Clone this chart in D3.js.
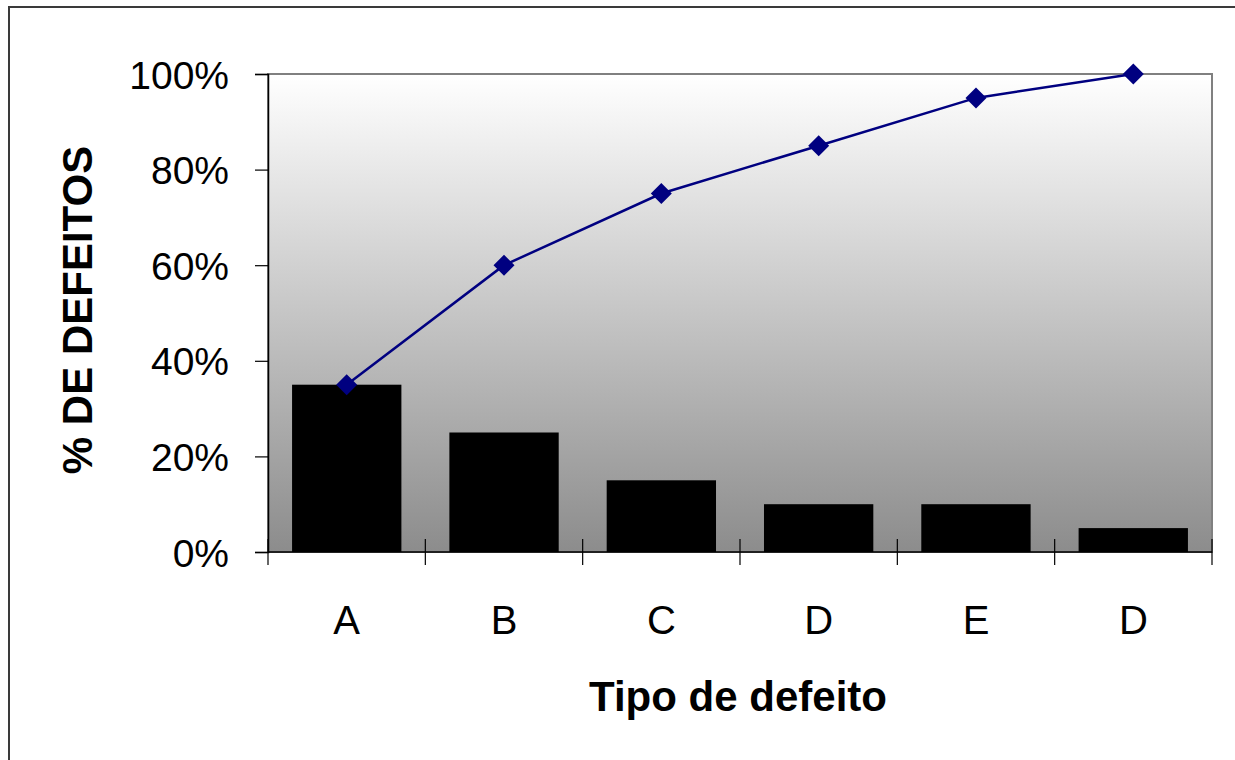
<!DOCTYPE html>
<head>
  <meta charset="utf-8">
  <script src="https://d3js.org/d3.v7.min.js"></script>
  <style>
    body { margin:0; background:#fff; }
    text { font-family: Arial, "Liberation Sans", sans-serif; fill:#000; }
  </style>
</head>
<body>
<script>
  // categories and values (% of defects)
  var categories = ['A', 'B', 'C', 'D', 'E', 'D'];
  var defectPct = [35, 25, 15, 10, 10, 5];
  var cumulativePct = [35, 60, 75, 85, 95, 100];
  var yTicks = [0, 20, 40, 60, 80, 100];

  var width = 1235, height = 760;
  var plot = { left: 268, right: 1212, top: 74, bottom: 552 };

  var svg = d3.select('body').append('svg')
    .attr('width', width)
    .attr('height', height);

  // outer frame
  svg.append('rect')
    .attr('x', 9).attr('y', 7)
    .attr('width', 1240).attr('height', 780)
    .attr('fill', 'none')
    .attr('stroke', '#3a3a3a')
    .attr('stroke-width', 2);

  var grad = svg.append('defs').append('linearGradient')
    .attr('id', 'bg').attr('x1', 0).attr('y1', 0).attr('x2', 0).attr('y2', 1);
  grad.append('stop').attr('offset', '0%').attr('stop-color', '#ffffff');
  grad.append('stop').attr('offset', '100%').attr('stop-color', '#8c8c8c');

  // x positions: index based because 'D' appears twice
  var x = d3.scaleBand()
    .domain(d3.range(categories.length))
    .range([plot.left, plot.right])
    .paddingInner(0.305)
    .paddingOuter(0.153);

  var xBand = d3.scaleBand()
    .domain(d3.range(categories.length))
    .range([plot.left, plot.right]);

  var y = d3.scaleLinear()
    .domain([0, 100])
    .range([plot.bottom, plot.top]);

  // plot background
  svg.append('rect')
    .attr('x', plot.left).attr('y', plot.top)
    .attr('width', plot.right - plot.left)
    .attr('height', plot.bottom - plot.top)
    .attr('fill', 'url(#bg)')
    .attr('stroke', '#808080')
    .attr('stroke-width', 2);

  // bars
  svg.append('g').selectAll('rect')
    .data(defectPct)
    .enter().append('rect')
    .attr('x', function(d, i){ return x(i); })
    .attr('y', function(d){ return y(d); })
    .attr('width', x.bandwidth())
    .attr('height', function(d){ return y(0) - y(d); })
    .attr('fill', '#000');

  // y axis
  var yAxis = d3.axisLeft(y)
    .tickValues(yTicks)
    .tickFormat(function(d){ return d + '%'; })
    .tickSize(13)
    .tickPadding(26);

  var yg = svg.append('g')
    .attr('transform', 'translate(' + plot.left + ',0)')
    .call(yAxis);
  yg.select('.domain').attr('stroke', '#000').attr('stroke-width', 1.5);
  yg.selectAll('.tick line').attr('stroke', '#000').attr('stroke-width', 1.2);
  yg.selectAll('.tick text')
    .attr('font-size', 39)
    .attr('dy', '0.36em')
    .style('font-family', 'Arial, "Liberation Sans", sans-serif');

  // x axis: ticks on band edges
  var edges = d3.range(categories.length + 1).map(function(i){
    return i < categories.length ? xBand(i) : plot.right;
  });
  var xg = svg.append('g');
  xg.append('line')
    .attr('x1', plot.left).attr('x2', plot.right)
    .attr('y1', plot.bottom).attr('y2', plot.bottom)
    .attr('stroke', '#000').attr('stroke-width', 1.5);
  xg.selectAll('.xt')
    .data(edges)
    .enter().append('line')
    .attr('class', 'xt')
    .attr('x1', function(d){ return d; }).attr('x2', function(d){ return d; })
    .attr('y1', plot.bottom - 13).attr('y2', plot.bottom + 13)
    .attr('stroke', '#000').attr('stroke-width', 1.2);
  xg.selectAll('.xl')
    .data(categories)
    .enter().append('text')
    .attr('class', 'xl')
    .attr('x', function(d, i){ return xBand(i) + xBand.bandwidth() / 2; })
    .attr('y', 634)
    .attr('text-anchor', 'middle')
    .attr('font-size', 40)
    .text(function(d){ return d; });

  // cumulative line
  var line = d3.line()
    .x(function(d, i){ return xBand(i) + xBand.bandwidth() / 2; })
    .y(function(d){ return y(d); });

  svg.append('path')
    .datum(cumulativePct)
    .attr('d', line)
    .attr('fill', 'none')
    .attr('stroke', '#000080')
    .attr('stroke-width', 2.5);

  svg.append('g').selectAll('path')
    .data(cumulativePct)
    .enter().append('path')
    .attr('transform', function(d, i){
      return 'translate(' + (xBand(i) + xBand.bandwidth() / 2) + ',' + y(d) + ')';
    })
    .attr('d', 'M0,-10.5L10.5,0L0,10.5L-10.5,0Z')
    .attr('fill', '#000080');

  // axis titles
  svg.append('text')
    .attr('transform', 'translate(92,310) rotate(-90)')
    .attr('text-anchor', 'middle')
    .attr('font-size', 42)
    .attr('font-weight', 'bold')
    .text('% DE DEFEITOS');

  svg.append('text')
    .attr('x', 738).attr('y', 711)
    .attr('text-anchor', 'middle')
    .attr('font-size', 42)
    .attr('font-weight', 'bold')
    .text('Tipo de defeito');
</script>
</body>
